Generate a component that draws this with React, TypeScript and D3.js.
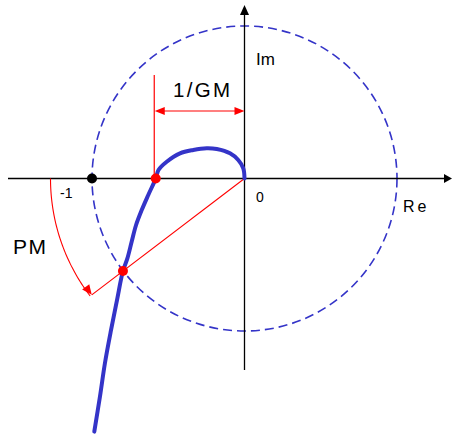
import React from "react";
import * as d3 from "d3";

// Nyquist curve samples (Re, Im), in units of the unit circle
const curveRe = [0, -0.008, -0.041, -0.095, -0.182, -0.248, -0.336, -0.423, -0.51, -0.564, -0.582, -0.631, -0.674, -0.711, -0.74, -0.768, -0.797, -0.836, -0.875, -0.915, -0.948, -0.985];
const curveIm = [0, 0.067, 0.121, 0.165, 0.193, 0.198, 0.187, 0.165, 0.11, 0.056, 0, -0.108, -0.207, -0.305, -0.415, -0.524, -0.607, -0.797, -0.993, -1.21, -1.431, -1.66];

// key points
const gmPoint = { re: -0.582, im: 0 };
const pmPoint = { re: -0.797, im: -0.607 };
const criticalPoint = { re: -1, im: 0 };

const labels = { im: "Im", re: "Re", zero: "0", minusOne: "-1", gm: "1/GM", pm: "PM" };

const W = 452;
const H = 436;

export default function App() {
  const x = d3.scaleLinear().domain([-1, 1]).range([92, 397]);
  const y = d3.scaleLinear().domain([1, -1]).range([26, 331]);
  const cx = x(0);
  const cy = y(0);
  const r = x(1) - x(0);

  const pts: [number, number][] = curveRe.map((v, i) => [x(v), y(curveIm[i])]);
  const line = d3.line().curve(d3.curveCatmullRom.alpha(0.5))(pts) || "";

  const blue = "#3434c8";
  const red = "#ff0000";

  // PM arc
  const arcR = 194;
  const a0 = Math.PI;
  const a1 = Math.atan2(y(pmPoint.im) - cy, x(pmPoint.re) - cx);
  const arcPts: [number, number][] = d3.range(0, 1.0001, 0.02).map((t) => {
    const a = a0 + (a1 - a0) * t;
    return [cx + arcR * Math.cos(a), cy + arcR * Math.sin(a)];
  });
  const tip = [cx + (arcR - 2) * Math.cos(a1), cy + (arcR - 2) * Math.sin(a1)];
  const tx = Math.sin(a1);
  const ty = -Math.cos(a1);
  const ahLen = 10, ahW = 4.5;
  const base = [tip[0] - tx * ahLen, tip[1] - ty * ahLen];
  const nx = -ty, ny = tx;
  const pmArrow = `M${tip[0]},${tip[1]} L${base[0] + nx * ahW},${base[1] + ny * ahW} L${base[0] - nx * ahW},${base[1] - ny * ahW} Z`;

  const gx = x(gmPoint.re);
  const gmY = 111;

  return (
    <svg width={W} height={H} style={{ position: "absolute", left: 0, top: 0 }}>
      {/* unit circle */}
      <circle cx={cx} cy={cy} r={r} fill="none" stroke={blue} strokeWidth={1.6} strokeDasharray="9,5" />
      {/* axes */}
      <line x1={8} y1={cy} x2={446} y2={cy} stroke="#000" strokeWidth={1.3} />
      <path d={`M452,${cy} L444,${cy - 4.5} L444,${cy + 4.5} Z`} fill="#000" />
      <line x1={cx} y1={370} x2={cx} y2={14} stroke="#000" strokeWidth={1.3} />
      <path d={`M${cx},5 L${cx - 4.5},15 L${cx + 4.5},15 Z`} fill="#000" />

      {/* GM marker */}
      <line x1={gx - 1.5} y1={75} x2={gx - 1.5} y2={cy} stroke={red} strokeWidth={1.2} />
      <line x1={gx + 6} y1={gmY} x2={cx - 6} y2={gmY} stroke={red} strokeWidth={1.2} />
      <path d={`M${gx - 1},${gmY} L${gx + 9},${gmY - 4} L${gx + 9},${gmY + 4} Z`} fill={red} />
      <path d={`M${cx},${gmY} L${cx - 10},${gmY - 4} L${cx - 10},${gmY + 4} Z`} fill={red} />

      {/* PM line and arc */}
      <line x1={cx} y1={cy} x2={tip[0]} y2={tip[1]} stroke={red} strokeWidth={1.1} />
      <path d={d3.line()(arcPts) || ""} fill="none" stroke={red} strokeWidth={1.1} />
      <path d={pmArrow} fill={red} />

      {/* Nyquist curve */}
      <path d={line} fill="none" stroke={blue} strokeWidth={4} strokeLinecap="round" />

      {/* points */}
      <circle cx={x(criticalPoint.re)} cy={y(criticalPoint.im)} r={5} fill="#000" />
      <circle cx={gx} cy={y(gmPoint.im)} r={5} fill={red} />
      <circle cx={x(pmPoint.re)} cy={y(pmPoint.im)} r={5} fill={red} />

      {/* labels */}
      <g fontFamily="'Liberation Sans', Arial, sans-serif" fill="#000">
        <text x={256} y={65} fontSize={17}>{labels.im}</text>
        <text x={403} y={212} fontSize={16} letterSpacing={3}>{labels.re}</text>
        <text x={256} y={202} fontSize={14}>{labels.zero}</text>
        <text x={60} y={198} fontSize={14}>{labels.minusOne}</text>
        <text x={173} y={97} fontSize={20.5} letterSpacing={2.3}>{labels.gm}</text>
        <text x={13} y={254} fontSize={21} letterSpacing={1.5}>{labels.pm}</text>
      </g>
    </svg>
  );
}
